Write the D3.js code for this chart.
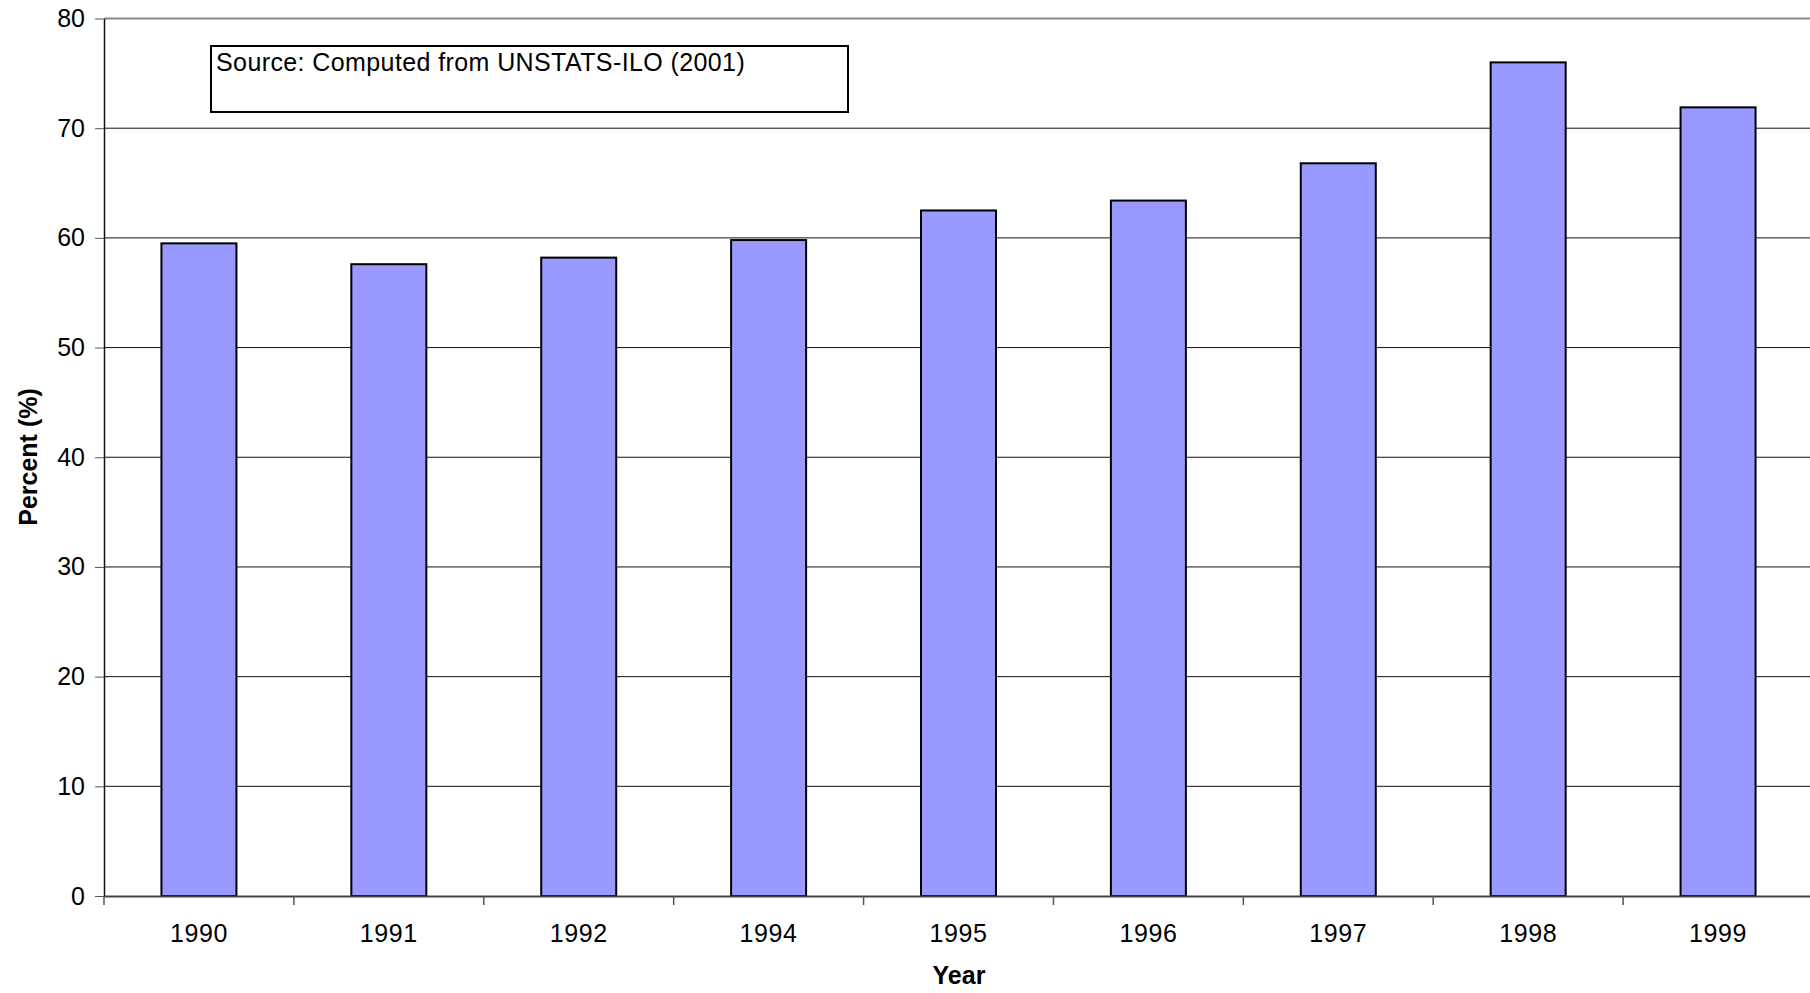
<!DOCTYPE html>
<html>
<head>
<meta charset="utf-8">
<script src="https://d3js.org/d3.v7.min.js"></script>
<style>
  body { margin: 0; background: #fff; }
  text { font-family: "Liberation Sans", Arial, sans-serif; }
</style>
</head>
<body>
<div id="chart"></div>
<script>
// data
var years = ["1990", "1991", "1992", "1994", "1995", "1996", "1997", "1998", "1999"];
var percent = [59.5, 57.6, 58.2, 59.8, 62.5, 63.4, 66.8, 76.0, 71.9];
var yTicks = [0, 10, 20, 30, 40, 50, 60, 70, 80];
var sourceNote = "Source: Computed from UNSTATS-ILO (2001)";

// set the dimensions and margins of the graph
var margin = {top: 18.5, right: -3, bottom: 97, left: 104},
    width = 1810 - margin.left - margin.right,
    height = 993 - margin.top - margin.bottom;

var svg = d3.select("#chart")
  .append("svg")
    .attr("width", 1810)
    .attr("height", 993)
  .append("g")
    .attr("transform", "translate(" + margin.left + "," + margin.top + ")");

var data = years.map(function(d, i) { return {year: d, value: percent[i]}; });

// X scale
var x = d3.scaleBand()
    .domain(years)
    .range([0, width])
    .paddingInner(0.605)
    .paddingOuter(0.3025);

// band boundaries for the category ticks
var xEdges = d3.scaleBand().domain(years).range([0, width]);

// Y scale
var y = d3.scaleLinear()
    .domain([0, 80])
    .range([height, 0]);

// gridlines
svg.append("g")
  .selectAll("line")
  .data(yTicks.filter(function(d) { return d > 0; }))
  .enter().append("line")
    .attr("x1", 0)
    .attr("x2", width)
    .attr("y1", function(d) { return y(d); })
    .attr("y2", function(d) { return y(d); })
    .attr("stroke", function(d) { return d == 80 ? "#888" : "#111"; })
    .attr("stroke-width", function(d) { return d == 80 ? 2 : 1; });

// bars
svg.append("g")
  .selectAll("rect")
  .data(data)
  .enter().append("rect")
    .attr("x", function(d) { return x(d.year); })
    .attr("y", function(d) { return y(d.value); })
    .attr("width", x.bandwidth())
    .attr("height", function(d) { return y(0) - y(d.value); })
    .attr("fill", "#9999ff")
    .attr("stroke", "#000")
    .attr("stroke-width", 2);

// Y axis
var yAxis = svg.append("g")
  .call(d3.axisLeft(y).tickValues(yTicks).tickSize(9).tickPadding(10).tickSizeOuter(0));
yAxis.select(".domain").attr("stroke", "#111").attr("stroke-width", 1.5);
yAxis.selectAll(".tick line").attr("stroke", "#555");
yAxis.selectAll("text").style("font-size", "25px").attr("fill", "#000");

// X axis
var xAxis = svg.append("g")
  .attr("transform", "translate(0," + height + ")")
  .call(d3.axisBottom(xEdges).tickSize(0).tickPadding(28).tickSizeOuter(0));
xAxis.select(".domain").attr("stroke", "#444").attr("stroke-width", 2);
xAxis.selectAll("text").style("font-size", "25px").style("letter-spacing", "0.6px").attr("fill", "#000");

// category separators
svg.append("g")
  .selectAll("line")
  .data(years)
  .enter().append("line")
    .attr("x1", function(d) { return xEdges(d); })
    .attr("x2", function(d) { return xEdges(d); })
    .attr("y1", height)
    .attr("y2", height + 9)
    .attr("stroke", "#555")
    .attr("stroke-width", 1.5);

// axis titles
svg.append("text")
  .attr("x", 959 - margin.left)
  .attr("y", height + 88)
  .attr("text-anchor", "middle")
  .style("font-size", "25px")
  .style("font-weight", "bold")
  .text("Year");

svg.append("text")
  .attr("transform", "translate(" + (37 - margin.left) + "," + (457 - margin.top) + ") rotate(-90)")
  .attr("text-anchor", "middle")
  .style("font-size", "25px")
  .style("font-weight", "bold")
  .text("Percent (%)");

// source note box
svg.append("rect")
  .attr("x", 211 - margin.left)
  .attr("y", 46 - margin.top)
  .attr("width", 637)
  .attr("height", 66)
  .attr("fill", "#fff")
  .attr("stroke", "#000")
  .attr("stroke-width", 2);

svg.append("text")
  .attr("x", 216 - margin.left)
  .attr("y", 71 - margin.top)
  .style("font-size", "25px")
  .style("letter-spacing", "0.4px")
  .text(sourceNote);
</script>
</body>
</html>
